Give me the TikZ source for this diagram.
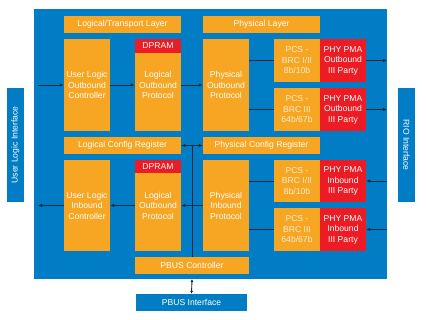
\documentclass[tikz,border=0pt]{standalone}
\usepackage{fontspec}
\setmainfont{Liberation Sans}
\usetikzlibrary{arrows.meta}
\definecolor{rioblue}{RGB}{0,125,196}
\definecolor{rioorange}{RGB}{246,166,35}
\definecolor{riored}{RGB}{237,28,36}
\definecolor{riodark}{RGB}{25,40,60}
\definecolor{pcstext}{RGB}{253,236,205}
\tikzset{
  blk/.style={fill=rioorange, text=white, inner sep=0pt, align=center,
    font=\fontsize{8.6}{10.5}\selectfont},
  redblk/.style={blk, fill=riored},
  ifblk/.style={blk, fill=rioblue},
  lnk/.style={draw=riodark, line width=0.9pt, -{Latex[length=4pt,width=3.5pt]}},
  bus/.style={draw=riodark, line width=0.9pt}
}
\begin{document}
\begin{tikzpicture}[x=1pt,y=-1pt]
    \useasboundingbox (0,0) rectangle (426,320);
    \fill[rioblue] (34,9) rectangle (387,279);
    % interfaces
    \node[ifblk, minimum width=114, minimum height=17, rotate=90] (ulif) at (15.5,145) {User Logic Interface};
    \node[ifblk, minimum width=114, minimum height=17, rotate=-90] (rioif) at (406.5,145) {RIO Interface};
    \node[ifblk, minimum width=111, minimum height=17] (pbusif) at (191.5,302.5) {PBUS Interface};
    % layers
    \node[blk, minimum width=117, minimum height=17] (ltl) at (122.5,24.5) {Logical/Transport Layer};
    \node[blk, minimum width=117, minimum height=17] (pl) at (261.5,24.5) {Physical Layer};
    % outbound
    \node[blk, minimum width=46, minimum height=92] (uloc) at (87,85) {User Logic\\Outbound\\Controller};
    \node[blk, minimum width=46, minimum height=92] (lop) at (158,85) {Logical\\Outbound\\Protocol};
    \node[redblk, minimum width=46, minimum height=14] (dpramo) at (158,46) {DPRAM};
    \node[blk, minimum width=46, minimum height=92] (pop) at (226,85) {Physical\\Outbound\\Protocol};
    \node[blk, text=pcstext, minimum width=46, minimum height=43] (pcso) at (297,60.5) {PCS -\\BRC I/II\\8b/10b};
    \node[redblk, minimum width=46, minimum height=43] (pmao) at (343,60.5) {PHY PMA\\Outbound\\III Party};
    \node[blk, text=pcstext, minimum width=46, minimum height=43] (pcsoo) at (297,109.5) {PCS -\\BRC III\\64b/67b};
    \node[redblk, minimum width=46, minimum height=43] (pmaoo) at (343,109.5) {PHY PMA\\Outbound\\III Party};
    % config
    \node[blk, minimum width=117, minimum height=17] (lcr) at (122.5,145.5) {Logical Config Register};
    \node[blk, minimum width=117, minimum height=17] (pcr) at (261.5,145.5) {Physical Config Register};
    % inbound
    \node[blk, minimum width=46, minimum height=91] (ulic) at (87,205.5) {User Logic\\Inbound\\Controller};
    \node[blk, minimum width=46, minimum height=91] (lip) at (158,205.5) {Logical\\Outbound\\Protocol};
    \node[redblk, minimum width=46, minimum height=13] (dprami) at (158,166.5) {DPRAM};
    \node[blk, minimum width=46, minimum height=91] (pip) at (226,205.5) {Physical\\Inbound\\Protocol};
    \node[blk, text=pcstext, minimum width=46, minimum height=42] (pcsi) at (297,181) {PCS -\\BRC I/II\\8b/10b};
    \node[redblk, minimum width=46, minimum height=42] (pmai) at (343,181) {PHY PMA\\Inbound\\III Party};
    \node[blk, text=pcstext, minimum width=46, minimum height=43] (pcsii) at (297,229.5) {PCS -\\BRC III\\64b/67b};
    \node[redblk, minimum width=46, minimum height=43] (pmaii) at (343,229.5) {PHY PMA\\Inbound\\III Party};
    \node[blk, minimum width=114, minimum height=17] (pbc) at (192,265.5) {PBUS Controller};
    \coordinate (ulo) at (38,85);
    \coordinate (uli) at (38,205.5);
    \coordinate (rioo) at (387,60.5);
    \coordinate (rioo2) at (387,109.5);
    \coordinate (rioi) at (387,181);
    \coordinate (rioi2) at (387,229.5);
    \coordinate (bustop) at (192,145.5);
    \coordinate (busout) at (192,279);
    % data paths
    \draw[lnk] (ulo) -- (uloc.west);
    \draw[lnk] (uloc.east) -- (lop.west);
    \draw[lnk] (lop.east) -- (pop.west);
    \draw[bus] (pop.east |- pcso.west) -- (pcso.west);
    \draw[bus] (pop.east |- pcsoo.west) -- (pcsoo.west);
    \draw[lnk] (pmao.east) -- (rioo);
    \draw[lnk] (pmaoo.east) -- (rioo2);
    \draw[lnk] (rioi) -- (pmai.east);
    \draw[lnk] (rioi2) -- (pmaii.east);
    \draw[bus] (pcsi.west) -- (pip.east |- pcsi.west);
    \draw[bus] (pcsii.west) -- (pip.east |- pcsii.west);
    \draw[lnk] (pip.west) -- (lip.east);
    \draw[lnk] (lip.west) -- (ulic.east);
    \draw[lnk] (ulic.west) -- (uli);
    % config bus
    \draw[lnk, {Latex[length=4pt,width=3.5pt]}-{Latex[length=4pt,width=3.5pt]}] (lcr.east) -- (pcr.west);
    \draw[bus] (bustop) -- (pbc.north);
    \draw[lnk, {Latex[length=3pt,width=3pt]}-{Latex[length=3pt,width=3pt]}] (busout) -- (pbusif.north);
\end{tikzpicture}
\end{document}
